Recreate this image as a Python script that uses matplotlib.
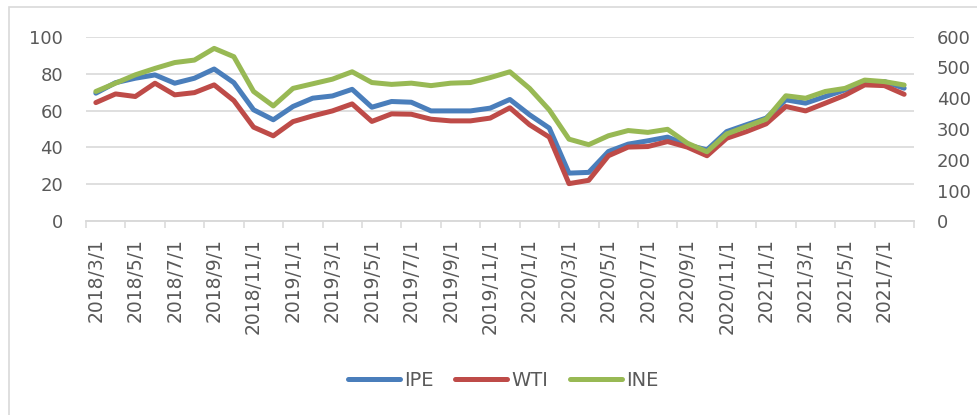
import numpy as np
import pandas as pd
import matplotlib
matplotlib.use('Agg')
import matplotlib.pyplot as plt
from matplotlib.patches import Rectangle

# 月度数据 2018/3 - 2021/8
dates = pd.date_range('2018-03-01', periods=42, freq='MS')
labels = [f"{d.year}/{d.month}/{d.day}" for d in dates]

ipe = [69.4, 75.1, 77.5, 79.3, 74.8, 77.5, 82.5, 75.1, 60.4, 55.0, 62.2,
       66.7, 67.9, 71.5, 61.8, 64.9, 64.5, 59.8, 59.8, 59.8, 61.3, 66.0,
       57.7, 50.5, 26.1, 26.5, 37.8, 41.8, 43.6, 45.6, 41.4, 38.7,
       48.6, 52.3, 55.9, 65.8, 64.0, 67.6, 71.2, 75.7, 75.7, 72.1]
wti = [64.3, 69.0, 67.6, 74.8, 68.5, 69.7, 73.9, 65.4, 51.0, 46.3, 54.0,
       57.1, 59.8, 63.6, 54.1, 58.2, 58.0, 55.3, 54.4, 54.4, 55.9, 61.5,
       52.3, 45.6, 20.4, 22.2, 35.5, 40.2, 40.5, 43.2, 40.2, 35.5,
       45.0, 48.6, 52.8, 62.2, 59.8, 64.0, 68.3, 73.9, 73.5, 68.8]
ine = [422, 449, 476, 497, 516, 524, 562, 535, 422, 375, 432,
       447, 462, 486, 451, 445, 449, 441, 449, 451, 467, 486,
       432, 362, 267, 249, 278, 295, 289, 299, 254, 226,
       284, 308, 332, 408, 400, 422, 432, 459, 454, 443]

W, H = 978, 415
txt = '#595959'
grid = '#d9d9d9'
lw = 3.6

fig = plt.figure(figsize=(W/100, H/100), dpi=100)
ax = fig.add_axes([86/W, (H-221.3)/H, (914-86)/W, (221.3-36.7)/H])
ax2 = ax.twinx()

x = np.arange(len(labels))
l1, = ax.plot(x, ipe, color='#4a7ebb', lw=lw, solid_capstyle='round', solid_joinstyle='round', label='IPE')
l2, = ax.plot(x, wti, color='#be4b48', lw=lw, solid_capstyle='round', solid_joinstyle='round', label='WTI')
l3, = ax2.plot(x, ine, color='#98b954', lw=lw, solid_capstyle='round', solid_joinstyle='round', label='INE')

ax.set_xlim(-0.5, len(labels)-0.5)
ax.set_ylim(0, 100)
ax.set_yticks(range(0, 101, 20))
ax2.set_ylim(0, 600)
ax2.set_yticks(range(0, 601, 100))

ax.set_xticks(x[::2])
ax.set_xticklabels(labels[::2], rotation=90, fontsize=13.5, color=txt)
ax.set_xticks(np.arange(-0.5, len(labels), 2), minor=True)
ax.tick_params(axis='x', which='major', length=0, pad=12)
ax.tick_params(axis='x', which='minor', length=5, color=grid, width=1.1)
ax.tick_params(axis='y', length=0, pad=16.5, labelsize=13, labelcolor=txt)
ax2.tick_params(axis='y', length=0, pad=16.5, labelsize=13, labelcolor=txt)

ax.grid(axis='y', color=grid, lw=1.2)
ax.set_axisbelow(True)
for a in (ax, ax2):
    for s in ['top', 'left', 'right']:
        a.spines[s].set_visible(False)
    a.spines['bottom'].set_color(grid)
    a.spines['bottom'].set_linewidth(1.2)

leg = fig.legend(handles=[l1, l2, l3], loc='center', bbox_to_anchor=(503/W, 1-380/H),
                 ncol=3, frameon=False, handlelength=2.7, handletextpad=0.2,
                 columnspacing=1.1, prop={'family': ['Liberation Sans Narrow', 'DejaVu Sans'], 'size': 14})
for t in leg.get_texts():
    t.set_color(txt)

# 外边框
fig.patches.append(Rectangle((9/W, -0.1), 1.2, (H-7)/H + 0.1, transform=fig.transFigure,
                             fill=False, edgecolor=grid, lw=1.2))

fig.savefig('out.png', dpi=100)
